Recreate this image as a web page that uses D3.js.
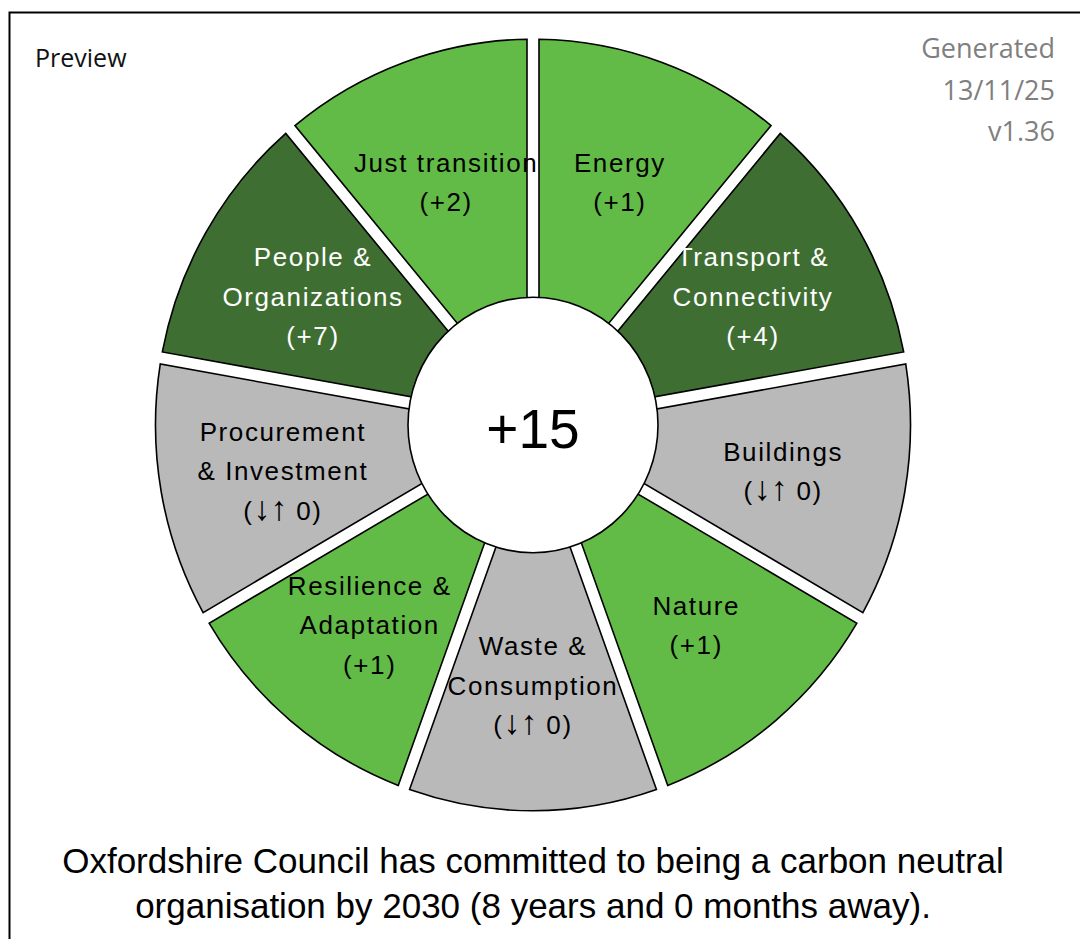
<!DOCTYPE html>
<html>
<head>
<meta charset="utf-8">
<script src="https://cdn.jsdelivr.net/npm/d3@7"></script>
<style>
    body { margin: 0; background: #fff; }
    svg { display: block; }
</style>
</head>
<body>
<svg id="chart" width="1080" height="939"></svg>
<script>
// Themes, clockwise from the top
const categories = ['Energy', 'Transport & Connectivity', 'Buildings', 'Nature', 'Waste & Consumption',
    'Resilience & Adaptation', 'Procurement & Investment', 'People & Organizations', 'Just transition'];
const labelLines = [['Energy'], ['Transport &', 'Connectivity'], ['Buildings'], ['Nature'], ['Waste &', 'Consumption'],
    ['Resilience &', 'Adaptation'], ['Procurement', '& Investment'], ['People &', 'Organizations'], ['Just transition']];
const scores = [1, 4, 0, 1, 0, 1, 0, 7, 2];
const totalScore = 15;
const stampLines = ['Generated', '13/11/25', 'v1.36'];
const footerLines = ['Oxfordshire Council has committed to being a carbon neutral',
    'organisation by 2030 (8 years and 0 months away).'];

const svg = d3.select('#chart');

// frame (runs off the right and bottom of the picture)
svg.append('rect')
    .attr('x', 9.5).attr('y', 12.5)
    .attr('width', 1200).attr('height', 1000)
    .attr('fill', 'none').attr('stroke', '#000').attr('stroke-width', 2);

svg.append('text')
    .attr('x', 35).attr('y', 67)
    .attr('font-family', 'Open Sans, sans-serif').attr('font-size', 25)
    .attr('fill', '#111')
    .text('Preview');

svg.append('g').selectAll('text')
    .data(stampLines)
    .enter().append('text')
    .attr('x', 1055).attr('y', (d, i) => 58 + i * 41.5)
    .attr('text-anchor', 'end')
    .attr('font-family', 'Open Sans, sans-serif').attr('font-size', 27)
    .attr('fill', '#7f7f7f')
    .text(d => d);

// Donut
const cx = 533, cy = 425, stretchY = 1.022;
const outerR = 377.5, holeR = 125;
const gap = 12;

const color = d3.scaleThreshold()
    .domain([1, 3])
    .range(['#b9b9b9', '#62bb46', '#3f6e33']);

const pie = d3.pie().value(1).sort(null);
const arcs = pie(scores.map((s, i) => ({ name: categories[i], score: s, lines: labelLines[i] })));

const arc = d3.arc()
    .innerRadius(holeR - 10)
    .outerRadius(outerR)
    .padRadius(outerR)
    .padAngle(gap / outerR);

const ring = svg.append('g')
    .attr('transform', `translate(${cx},${cy}) scale(1,${stretchY})`);

ring.selectAll('path')
    .data(arcs)
    .enter().append('path')
    .attr('d', arc)
    .attr('fill', d => color(d.data.score))
    .attr('stroke', '#000')
    .attr('stroke-width', 1.6)
    .attr('vector-effect', 'non-scaling-stroke');

ring.append('circle')
    .attr('r', holeR)
    .attr('fill', '#fff')
    .attr('stroke', '#000')
    .attr('stroke-width', 1.6)
    .attr('vector-effect', 'non-scaling-stroke');

// Segment labels
const labelArc = d3.arc().innerRadius(254).outerRadius(254);
const lineH = 39.5;

const labels = svg.append('g')
    .attr('font-family', 'Liberation Sans, Arial, sans-serif')
    .attr('font-size', 26)
    .attr('letter-spacing', 1.6)
    .attr('text-anchor', 'middle');

arcs.forEach(d => {
    const [lx, ly] = labelArc.centroid(d);
    const x = cx + lx, y = cy + ly * stretchY;
    const lines = d.data.lines.concat([d.data.score > 0 ? `(+${d.data.score})` : null]);
    const top = y - (lines.length - 1) * lineH / 2;
    const t = labels.append('text')
        .attr('fill', d.data.score >= 3 ? '#fff' : '#000');
    lines.forEach((ln, i) => {
        const span = t.append('tspan')
            .attr('x', x)
            .attr('y', top + i * lineH)
            .attr('dy', '0.4em');
        if (ln !== null) {
            span.text(ln);
        } else {
            // unchanged score: taller arrows
            span.text('(');
            t.append('tspan').attr('font-size', 34).attr('letter-spacing', 0).text('\u2193\u2191');
            t.append('tspan').text(' 0)');
        }
    });
});

svg.append('text')
    .attr('x', cx).attr('y', 448)
    .attr('text-anchor', 'middle')
    .attr('font-family', 'Liberation Sans, Arial, sans-serif')
    .attr('font-size', 55)
    .text(`+${totalScore}`);

// Footer
svg.append('g').selectAll('text')
    .data(footerLines)
    .enter().append('text')
    .attr('x', cx).attr('y', (d, i) => 873 + i * 45)
    .attr('text-anchor', 'middle')
    .attr('font-family', 'Liberation Sans, Arial, sans-serif')
    .attr('font-size', 35)
    .text(d => d);
</script>
</body>
</html>
